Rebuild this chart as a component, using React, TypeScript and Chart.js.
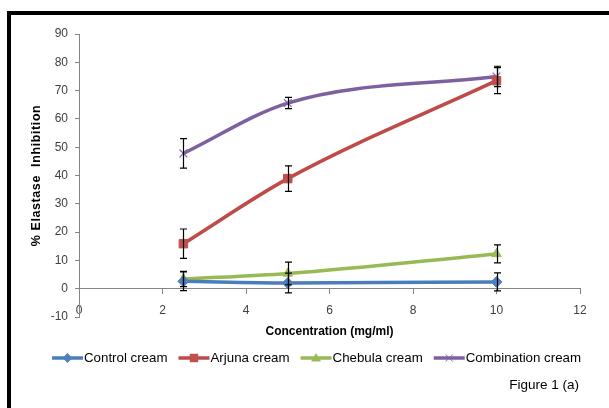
import React, { useEffect, useRef } from "react";
import { Chart, registerables } from "chart.js";

Chart.register(...registerables);

// ---- data ----
const concentrations = [2.5, 5, 10];
const seriesNames = ["Control cream", "Arjuna cream", "Chebula cream", "Combination cream"];
const controlValues = [2.6, 2.0, 2.4];
const controlErrors = [3.3, 3.5, 3.2];
const arjunaValues = [15.9, 38.9, 73.5];
const arjunaErrors = [5.2, 4.5, 4.6];
const chebulaValues = [3.4, 5.4, 12.3];
const chebulaErrors = [2.7, 4.0, 3.2];
const combinationValues = [47.8, 65.6, 75.0];
const combinationErrors = [5.2, 2.0, 3.6];
const xTickValues = [0, 2, 4, 6, 8, 10, 12];
const yTickValues = [-10, 0, 10, 20, 30, 40, 50, 60, 70, 80, 90];
const xTitle = "Concentration (mg/ml)";
const yTitle = "% Elastase  Inhibition";
const caption = "Figure 1 (a)";

const lineColors = ["#4A7EBB", "#BE4B48", "#98B954", "#7D60A0"];
const markerColors = ["#4F81BD", "#C0504D", "#9BBB59", "#8064A2"];
const markerStyles = ["rectRot", "rect", "triangle", "crossRot"];
const allValues = [controlValues, arjunaValues, chebulaValues, combinationValues];
const allErrors = [controlErrors, arjunaErrors, chebulaErrors, combinationErrors];

const FONT = "'Liberation Sans', 'DejaVu Sans', sans-serif";

function drawMarker(ctx: CanvasRenderingContext2D, style: string, x: number, y: number, r: number, color: string) {
  ctx.save();
  ctx.fillStyle = color;
  ctx.strokeStyle = color;
  ctx.lineWidth = 1;
  ctx.beginPath();
  if (style === "rectRot") {
    ctx.moveTo(x, y - r);
    ctx.lineTo(x + r, y);
    ctx.lineTo(x, y + r);
    ctx.lineTo(x - r, y);
    ctx.closePath();
    ctx.fill();
  } else if (style === "rect") {
    ctx.rect(x - r * 0.85, y - r * 0.85, r * 1.7, r * 1.7);
    ctx.fill();
  } else if (style === "triangle") {
    ctx.moveTo(x, y - r);
    ctx.lineTo(x + r, y + r * 0.7);
    ctx.lineTo(x - r, y + r * 0.7);
    ctx.closePath();
    ctx.fill();
  } else {
    ctx.moveTo(x - r * 0.7, y - r * 0.7);
    ctx.lineTo(x + r * 0.7, y + r * 0.7);
    ctx.moveTo(x + r * 0.7, y - r * 0.7);
    ctx.lineTo(x - r * 0.7, y + r * 0.7);
    ctx.stroke();
  }
  ctx.restore();
}

const errorBarPlugin = {
  id: "errorBars",
  afterDatasetsDraw(chart: any) {
    const ctx = chart.ctx as CanvasRenderingContext2D;
    const xs = chart.scales.x;
    const ys = chart.scales.y;
    ctx.save();
    ctx.strokeStyle = "#000";
    ctx.lineWidth = 1.2;
    allValues.forEach((vals, si) => {
      vals.forEach((v, i) => {
        const e = allErrors[si][i];
        const px = Math.round(xs.getPixelForValue(concentrations[i])) + 0.5;
        const top = ys.getPixelForValue(v + e);
        const bot = ys.getPixelForValue(v - e);
        ctx.beginPath();
        ctx.moveTo(px, top);
        ctx.lineTo(px, bot);
        ctx.moveTo(px - 3.5, top);
        ctx.lineTo(px + 3.5, top);
        ctx.moveTo(px - 3.5, bot);
        ctx.lineTo(px + 3.5, bot);
        ctx.stroke();
      });
    });
    ctx.restore();
  },
};

const textPlugin = {
  id: "texts",
  afterDraw(chart: any) {
    const ctx = chart.ctx as CanvasRenderingContext2D;
    const area = chart.chartArea;
    ctx.save();
    ctx.fillStyle = "#000";
    // y title
    ctx.save();
    ctx.font = `bold 12.5px ${FONT}`;
    (ctx as any).letterSpacing = "0.6px";
    ctx.translate(37, (area.top + area.bottom) / 2);
    ctx.rotate(-Math.PI / 2);
    ctx.textAlign = "center";
    ctx.textBaseline = "middle";
    ctx.fillText(yTitle, 0, 0);
    ctx.restore();
    // x title
    ctx.font = `bold 12px ${FONT}`;
    ctx.textAlign = "center";
    ctx.textBaseline = "middle";
    ctx.fillText(xTitle, (area.left + area.right) / 2, 332);
    // legend
    ctx.font = `13.3px ${FONT}`;
    const lineLen = 31;
    const gap = 11;
    const widths = seriesNames.map((n) => ctx.measureText(n).width);
    const total = widths.reduce((a, w) => a + lineLen + w + 1, 0) + gap * (seriesNames.length - 1);
    let x = 316.5 - total / 2;
    const ly = 358;
    ctx.textAlign = "left";
    seriesNames.forEach((n, i) => {
      ctx.save();
      ctx.strokeStyle = lineColors[i];
      ctx.lineWidth = 3.5;
      ctx.beginPath();
      ctx.moveTo(x, ly);
      ctx.lineTo(x + lineLen, ly);
      ctx.stroke();
      ctx.restore();
      drawMarker(ctx, markerStyles[i], x + lineLen / 2, ly, 5, markerColors[i]);
      ctx.fillStyle = "#000";
      ctx.fillText(n, x + lineLen + 1, ly);
      x += lineLen + 1 + widths[i] + gap;
    });
    // caption
    ctx.font = `13.5px ${FONT}`;
    ctx.textAlign = "right";
    ctx.fillText(caption, 579, 385);
    ctx.restore();
  },
};

export default function App() {
  const canvasRef = useRef<HTMLCanvasElement | null>(null);

  useEffect(() => {
    if (!canvasRef.current) return;
    const datasets = seriesNames.map((name, i) => ({
      label: name,
      data: concentrations.map((c, j) => ({ x: c, y: allValues[i][j] })),
      borderColor: lineColors[i],
      backgroundColor: markerColors[i],
      pointBackgroundColor: markerColors[i],
      pointBorderColor: markerColors[i],
      pointStyle: markerStyles[i] as any,
      pointRadius: i === 1 ? 6 : 5.5,
      pointBorderWidth: i === 3 ? 1.2 : 1,
      borderWidth: 3.5,
      cubicInterpolationMode: "monotone" as const,
      fill: false,
    }));
    const tickFont = { family: FONT, size: 12 };
    const chart = new Chart(canvasRef.current, {
      type: "line",
      data: { datasets },
      options: {
        animation: false,
        responsive: false,
        layout: { padding: { left: 39, top: 34, right: 29, bottom: 91 } },
        plugins: { legend: { display: false }, tooltip: { enabled: false } },
        scales: {
          x: {
            type: "linear",
            position: { y: 0 } as any,
            min: 0,
            max: 12,
            afterBuildTicks: (s: any) => {
              s.ticks = xTickValues.map((v) => ({ value: v }));
            },
            ticks: { font: tickFont, color: "#404040", padding: 10, autoSkip: false, maxRotation: 0 },
            grid: { display: true, drawOnChartArea: false, drawTicks: true, tickLength: 5, color: "#868686" },
            border: { display: true, color: "#868686", width: 1 },
          },
          y: {
            type: "linear",
            position: "left",
            min: -10,
            max: 90,
            afterBuildTicks: (s: any) => {
              s.ticks = yTickValues.map((v) => ({ value: v }));
            },
            afterFit: (s: any) => {
              s.width = 40;
            },
            ticks: { font: tickFont, color: "#404040", padding: 7 },
            grid: { display: true, drawOnChartArea: false, drawTicks: true, tickLength: 4, color: "#868686" },
            border: { display: true, color: "#868686", width: 1 },
          },
        },
      },
      plugins: [errorBarPlugin, textPlugin],
    });
    return () => chart.destroy();
  }, []);

  return (
    <div style={{ position: "absolute", left: 0, top: 0, width: 609, height: 408, background: "#fff", overflow: "hidden" }}>
      <canvas ref={canvasRef} width={609} height={408} style={{ position: "absolute", left: 0, top: 0 }} />
      <div style={{ position: "absolute", left: 7, top: 11, width: 602, height: 4, background: "#000" }} />
      <div style={{ position: "absolute", left: 7, top: 11, width: 4, height: 397, background: "#000" }} />
    </div>
  );
}
